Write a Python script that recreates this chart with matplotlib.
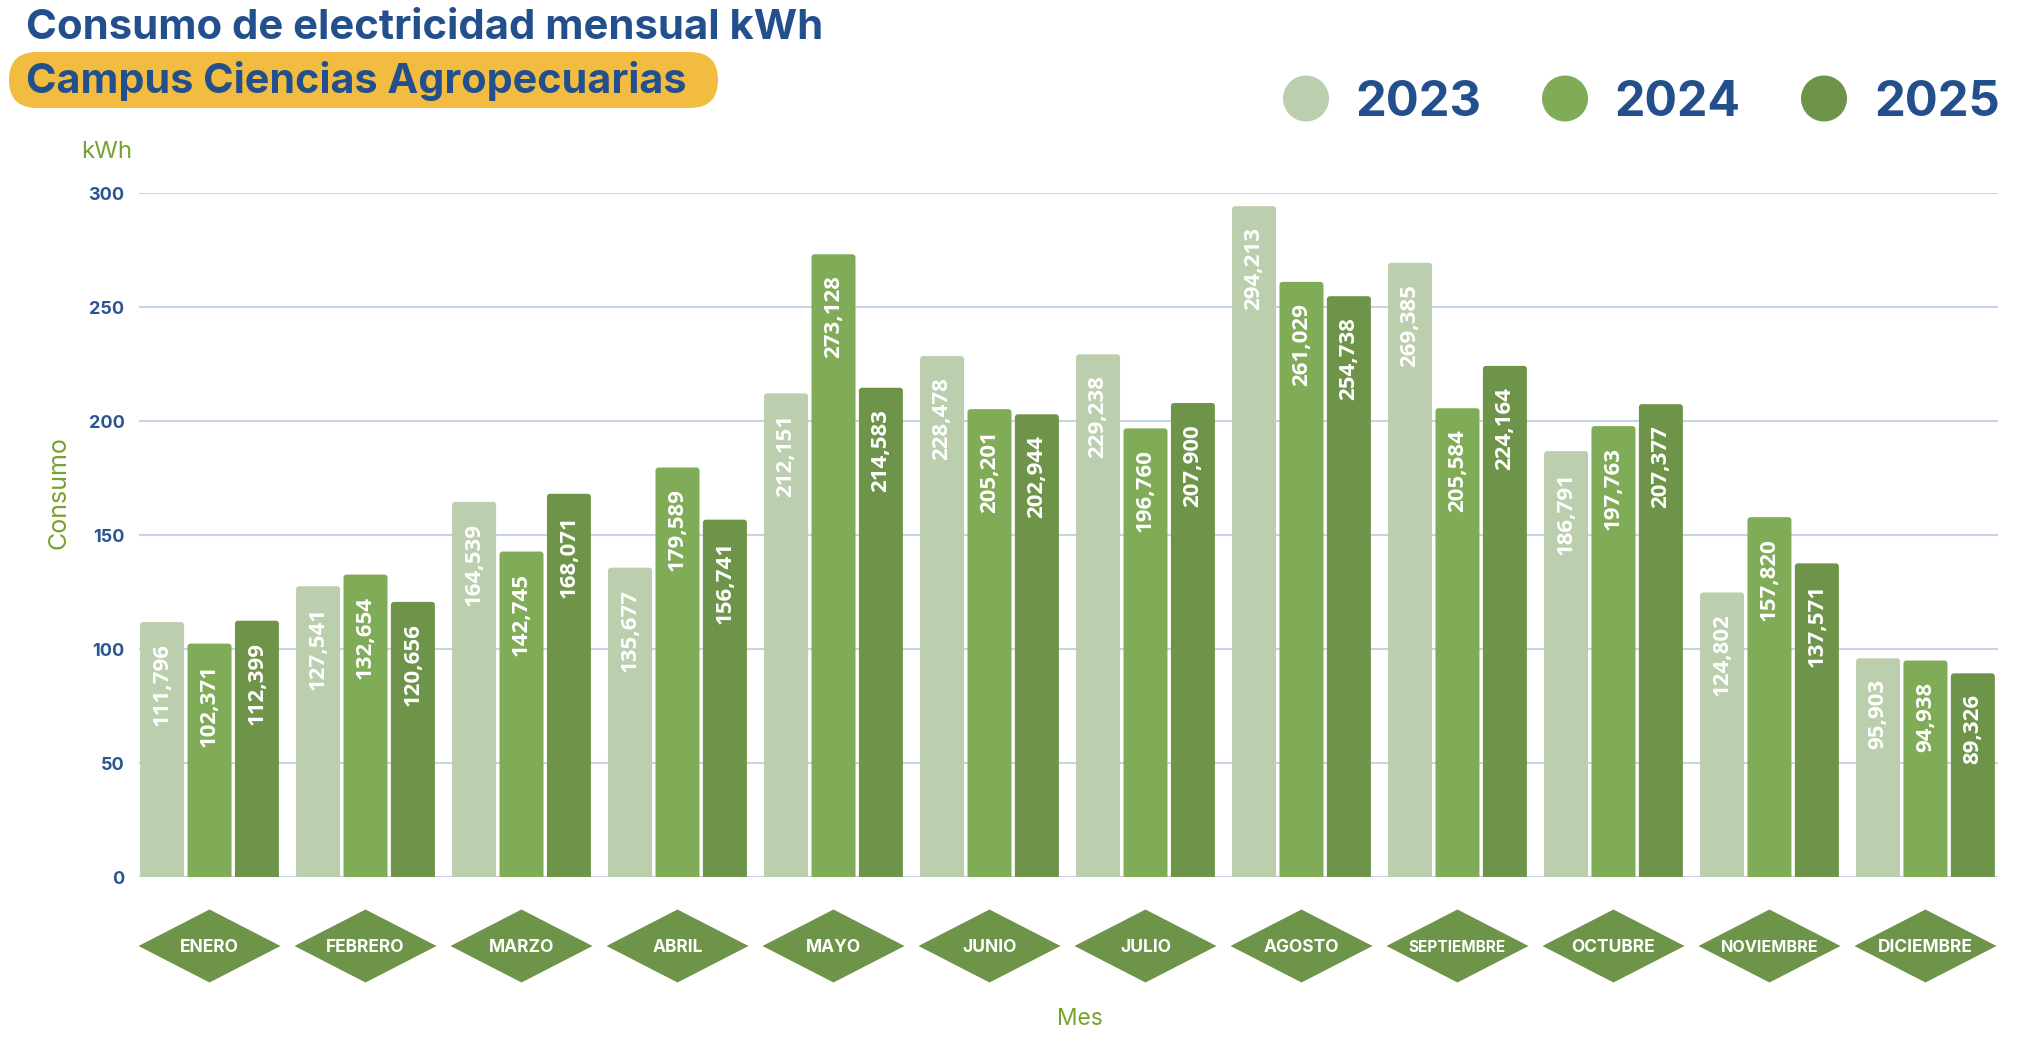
import matplotlib
matplotlib.use("Agg")
import matplotlib.pyplot as plt
import numpy as np
from matplotlib.patches import FancyBboxPatch, Polygon, Circle

# ---------------- data ----------------
months = ["ENERO", "FEBRERO", "MARZO", "ABRIL", "MAYO", "JUNIO", "JULIO",
          "AGOSTO", "SEPTIEMBRE", "OCTUBRE", "NOVIEMBRE", "DICIEMBRE"]
years = ["2023", "2024", "2025"]
v2023 = [111.796, 127.541, 164.539, 135.677, 212.151, 228.478, 229.238,
         294.213, 269.385, 186.791, 124.802, 95.903]
v2024 = [102.371, 132.654, 142.745, 179.589, 273.128, 205.201, 196.760,
         261.029, 205.584, 197.763, 157.820, 94.938]
v2025 = [112.399, 120.656, 168.071, 156.741, 214.583, 202.944, 207.900,
         254.738, 224.164, 207.377, 137.571, 89.326]
yticks = [0, 50, 100, 150, 200, 250, 300]
title = "Consumo de electricidad mensual kWh"
subtitle = "Campus Ciencias Agropecuarias"

# ---------------- style ----------------
colors = ["#BBCEAD", "#80AB57", "#6E9449"]
BLUE = "#234F8C"
TICKBLUE = "#2A5592"
GREEN_TXT = "#76A22E"
YELLOW = "#F2BC41"
GRID = "#C6D4E6"
DIAMOND = "#6E9449"

W, H = 2044, 1058
fig = plt.figure(figsize=(W / 100, H / 100), dpi=100)
fig.patch.set_facecolor("white")

# overlay axes in pixel coordinates
ov = fig.add_axes([0, 0, 1, 1], zorder=0)
ov.set_xlim(0, W)
ov.set_ylim(H, 0)
ov.axis("off")

# main axes
left, right, top, bottom = 139, 1998, 193, 877
ax = fig.add_axes([left / W, 1 - bottom / H, (right - left) / W, (bottom - top) / H], zorder=1)
ax.patch.set_alpha(0)
ax.set_ylim(0, 300)
ax.set_xlim(-0.452, 11.465)

# pixel sizes of one data unit (for rounded corners)
px_x = (right - left) / (11.465 + 0.452)
px_y = (bottom - top) / 300.0
r_px = 3.0

x = np.arange(len(months))
series = [v2023, v2024, v2025]
offsets = [-0.304, 0.0, 0.304]
bw = 0.282
for vals, off, col in zip(series, offsets, colors):
    bars = ax.bar(x + off, vals, width=bw, color=col, zorder=3, linewidth=0)
    for b, v in zip(bars, vals):
        b.set_visible(False)
        rb = FancyBboxPatch((b.get_x(), -5), b.get_width(), b.get_height() + 5,
                            boxstyle=f"round,pad=0,rounding_size={r_px / px_x}",
                            mutation_aspect=px_x / px_y,
                            facecolor=col, edgecolor="none", zorder=3)
        ax.add_patch(rb)
        lab = f"{v:.3f}".replace(".", ",")
        ax.annotate(lab, (b.get_x() + b.get_width() / 2, b.get_height()),
                    xytext=(0, -21 * 0.72), textcoords="offset points",
                    rotation=90, ha="center", va="top", color="white",
                    fontsize=16, fontfamily="Open Sans", fontweight="bold",
                    zorder=5)

ax.set_yticks(yticks)
ax.set_yticklabels([str(t) for t in yticks], fontfamily="Inter",
                   fontweight="bold", fontsize=13, color=TICKBLUE)
ax.tick_params(axis="y", length=0, pad=10.5)
ax.tick_params(axis="x", length=0, labelbottom=False)
ax.grid(axis="y", color=GRID, linewidth=1.5, zorder=0)
for s in ax.spines.values():
    s.set_visible(False)

renderer = fig.canvas.get_renderer()


def fit_width(t, target):
    bb = t.get_window_extent(renderer)
    t.set_fontsize(t.get_fontsize() * target / bb.width)


def fit_height(t, target):
    bb = t.get_window_extent(renderer)
    t.set_fontsize(t.get_fontsize() * target / bb.height)


# title and subtitle
pill = FancyBboxPatch((9, 52), 709, 56, boxstyle="round,pad=0,rounding_size=28",
                      facecolor=YELLOW, edgecolor="none", zorder=1)
ov.add_patch(pill)
t1 = ov.text(26, 39, title, fontfamily="Inter", fontweight="bold", fontsize=30,
             color=BLUE, ha="left", va="baseline", zorder=2)
fit_width(t1, 798)
t2 = ov.text(26, 93, subtitle, fontfamily="Inter", fontweight="bold", fontsize=30,
             color=BLUE, ha="left", va="baseline", zorder=2)
fit_width(t2, 661)

# legend
leg_cx = [1306, 1565, 1824]
leg_tx = [1355, 1614, 1874]
for cx, tx, col, yr in zip(leg_cx, leg_tx, colors, years):
    ov.add_patch(Circle((cx, 98.5), 23, facecolor=col, edgecolor="none", zorder=2))
    tt = ov.text(tx, 116, yr, fontfamily="Inter", fontweight="bold", fontsize=36,
                 color=BLUE, ha="left", va="baseline", zorder=2)
    fit_width(tt, 126)

# axis texts
tk = ov.text(81, 158, "kWh", fontfamily="Inter", fontweight="normal", fontsize=17,
             color=GREEN_TXT, ha="left", va="baseline")
fit_width(tk, 51)
tc = ov.text(59, 493, "Consumo", fontfamily="Inter", fontweight="normal", fontsize=18,
             color=GREEN_TXT, ha="center", va="center", rotation=90)
fit_height(tc, 113)
tm = ov.text(1080, 1025, "Mes", fontfamily="Inter", fontweight="normal", fontsize=17,
             color=GREEN_TXT, ha="center", va="baseline")
fit_width(tm, 46)

# month diamonds
cy, hw, hh = 946, 71, 36.5
for xi, m in zip(x, months):
    cx = ax.transData.transform((xi, 0))[0]
    cx = ov.transData.inverted().transform((cx, 0))[0]
    ov.add_patch(Polygon([(cx - hw, cy), (cx, cy - hh), (cx + hw, cy), (cx, cy + hh)],
                         closed=True, facecolor=DIAMOND, edgecolor="none", zorder=2))
    mt = ov.text(cx, cy + 1, m, fontfamily="Inter", fontweight="bold", fontsize=12.5,
                 color="white", ha="center", va="center", zorder=3)
    bb = mt.get_window_extent(renderer)
    if bb.width > 97:
        fit_width(mt, 97)

fig.savefig("out.png", dpi=100, facecolor="white")
